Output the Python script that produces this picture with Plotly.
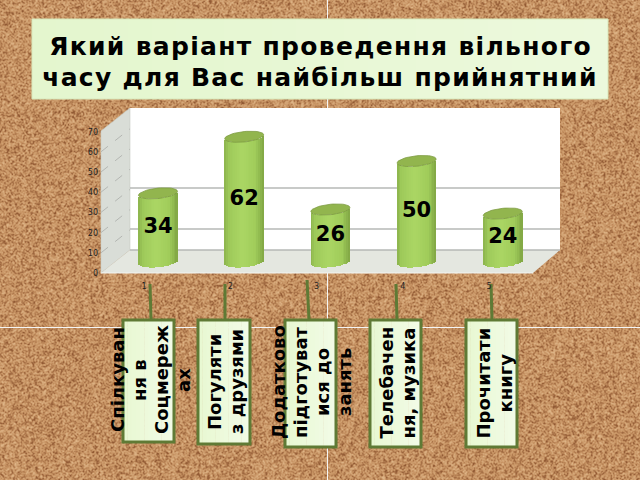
import base64, struct, zlib
import numpy as np
import plotly.graph_objects as go

# ---- chart values ----
categories = [1, 2, 3, 4, 5]
values = [34, 62, 26, 50, 24]
y_ticks = [0, 10, 20, 30, 40, 50, 60, 70]
title_lines = ["Який варіант проведення вільного", "часу для Вас найбільш прийнятний"]
category_names = [
    ["Спілкуван", "ня в", "Соцмереж", "ах"],
    ["Погуляти", "з друзями"],
    ["Додатково", "підготуват", "ися до", "занять"],
    ["Телебачен", "ня, музика"],
    ["Прочитати", "книгу"],
]

W, H = 640, 480
FONT = "DejaVu Sans"
PX_X = 86.2      # px per category
PX_Y = 2.02      # px per value unit
BAR_W = 39.0     # px
A, B, TILT = BAR_W / 2, 5.2, 0.1


def px(x):
    return x / W


def py(y):
    return 1 - y / H


# ---- decorative cork background (not chart data) ----
yy, xx = np.mgrid[0:H + 1, 0:W + 1]
hash_ = np.sin(xx * 12.9898 + yy * 78.233) * 43758.5453
hash_ = hash_ - np.floor(hash_)
soft = (hash_[:-1, :-1] + hash_[1:, :-1] + hash_[:-1, 1:] + hash_[1:, 1:]) / 4
t = np.clip((soft - 0.5) * 2.6, -1, 1)[..., None]
base_c = np.array([198, 146, 98], float)
dark_c = np.array([146, 90, 52], float)
light_c = np.array([222, 180, 134], float)
rgb = np.where(t < 0, base_c + (dark_c - base_c) * -t, base_c + (light_c - base_c) * t).astype(np.uint8)
# faint white cross seams of the backdrop
rgb[:, 327] = 245
rgb[327, :] = 245


def png_uri(a):
    h, w, _ = a.shape
    raw = b"".join(b"\x00" + a[i].tobytes() for i in range(h))

    def chunk(tag, d):
        return struct.pack(">I", len(d)) + tag + d + struct.pack(">I", zlib.crc32(tag + d) & 0xffffffff)

    png = b"\x89PNG\r\n\x1a\n" + chunk(b"IHDR", struct.pack(">IIBBBBB", w, h, 8, 2, 0, 0, 0)) \
        + chunk(b"IDAT", zlib.compress(raw, 9)) + chunk(b"IEND", b"")
    return "data:image/png;base64," + base64.b64encode(png).decode()


shapes = []


def poly(pts, fill, line="rgba(0,0,0,0)", width=0):
    path = "M " + " L ".join(f"{px(x):.5f},{py(y):.5f}" for x, y in pts) + " Z"
    shapes.append(dict(type="path", xref="paper", yref="paper", path=path, fillcolor=fill,
                       line=dict(color=line, width=width), layer="below"))


def seg(x0, y0, x1, y1, color, width, dash="solid"):
    shapes.append(dict(type="line", xref="paper", yref="paper", x0=px(x0), y0=py(y0), x1=px(x1), y1=py(y1),
                       line=dict(color=color, width=width, dash=dash), layer="below"))


def mix(c0, c1, f):
    return "rgb(%d,%d,%d)" % tuple(round(a + (b - a) * f) for a, b in zip(c0, c1))


def gradient_box(x0, y0, x1, y1, c0, c1, border=None, bw=0, n=14):
    for i in range(n):
        xa = x0 + (x1 - x0) * i / n
        xb = x0 + (x1 - x0) * (i + 1) / n + 0.5 * (i < n - 1)
        poly([(xa, y0), (xb, y0), (xb, y1), (xa, y1)], mix(c0, c1, i / (n - 1)))
    if border:
        poly([(x0, y0), (x1, y0), (x1, y1), (x0, y1)], "rgba(0,0,0,0)", border, bw)


# 3-D chart room
poly([(130, 108), (560, 108), (560, 250), (130, 250)], "white")
poly([(101, 131), (130, 108), (130, 250), (101, 273)], "#d9ddd7", "#c8ccc6", 0.6)
poly([(101, 273), (130, 250), (560, 250), (533, 273)], "#e4e7e0")
for gy in (188, 229, 250):
    seg(130, gy, 560, gy, "#b6b8b6", 1.4)
for k in range(1, 7):
    seg(101, 273 - 20.2 * k, 130, 250 - 20.2 * k, "#a9aca8", 0.8, "dash")
seg(101, 273, 533, 273, "#f4f5f2", 1.2)

# title panel
gradient_box(32, 19, 608, 99, (228, 246, 206), (236, 249, 220), "#d8e8bc", 1, n=24)

# category label panels with their connector lines
boxes = [(123, 320, 174, 442), (198, 320, 250, 444), (285, 320, 336, 447), (370, 320, 421, 447), (466, 320, 517, 447)]
links = [(150, 284, 151, 320), (225, 284, 225, 320), (307, 280, 309, 320), (396, 284, 397, 320), (491, 284, 492, 320)]
for lk in links:
    seg(*lk, "#5f7a35", 3)
for b in boxes:
    gradient_box(*b, (232, 248, 210), (242, 251, 230), "#5f7a35", 3, n=12)

# ---- traces ----
fig = go.Figure()

# cylinder bodies: vertical strips sharing each value, with a curved lower edge
N = 22
stops = [(0, (140, 178, 76)), (0.12, (158, 202, 90)), (0.45, (171, 214, 100)), (0.8, (160, 204, 90)), (1, (128, 166, 68))]


def shade(f):
    for (a, ca), (b, cb) in zip(stops, stops[1:]):
        if f <= b:
            return mix(ca, cb, (f - a) / (b - a))
    return mix(stops[-1][1], stops[-1][1], 0)


for i in range(N):
    f = (i + 0.5) / N
    dx = (f - 0.5) * BAR_W
    lower = (-B * np.sqrt(max(1 - (dx / A) ** 2, 0)) + TILT * dx) / PX_Y
    fig.add_trace(go.Bar(
        x=categories, y=values, base=[lower] * len(values),
        offset=(dx - BAR_W / N / 2 - 0.25) / PX_X, width=(BAR_W / N + 0.5) / PX_X,
        marker=dict(color=shade(f), line=dict(width=0)), hoverinfo="skip", showlegend=False))

# cylinder tops
theta = np.linspace(0, 2 * np.pi, 49)
cap_x, cap_y = [], []
for c, v in zip(categories, values):
    cap_x += list(c + A * np.cos(theta) / PX_X) + [None]
    cap_y += list(v + (B * np.sin(theta) + TILT * A * np.cos(theta)) / PX_Y) + [None]
fig.add_trace(go.Scatter(x=cap_x, y=cap_y, mode="lines", fill="toself", fillcolor="#92b54e",
                         line=dict(color="#7d9c42", width=0.8), hoverinfo="skip", showlegend=False))

# value labels
fig.add_trace(go.Scatter(x=categories, y=[v / 2 for v in values], mode="text", text=[str(v) for v in values],
                         textposition="middle center",
                         textfont=dict(family=FONT, size=21, color="black", weight="bold"),
                         hoverinfo="skip", showlegend=False))

# carrier for the front-plane tick axes
fig.add_trace(go.Scatter(x=categories, y=[0] * len(categories), xaxis="x2", yaxis="y2", mode="markers",
                         marker=dict(opacity=0), hoverinfo="skip", showlegend=False))

# ---- annotations ----
ann = []
for line, ly in zip(title_lines, (47, 77)):
    ann.append(dict(text=line, x=px(320), y=py(ly), xref="paper", yref="paper", xanchor="center", yanchor="middle",
                    showarrow=False, name="title", font=dict(family=FONT, size=25, color="black", weight="bold")))
label_centres = [(150, 380), (225, 382), (311.5, 382.5), (396.5, 383), (493.5, 383)]
for name, (cx, cy) in zip(category_names, label_centres):
    for k, line in enumerate(name):
        lx = cx + (k - (len(name) - 1) / 2) * 22
        ann.append(dict(text=line, x=px(lx), y=py(cy), xref="paper", yref="paper", xanchor="center", yanchor="middle",
                        showarrow=False, textangle=-90,
                        font=dict(family=FONT, size=18, color="black", weight="bold")))

tick_font = dict(family=FONT, size=8, color="#222222")
fig.update_layout(
    width=W, height=H, margin=dict(l=0, r=0, t=0, b=0), barmode="overlay", bargap=0,
    paper_bgcolor="#c89462", plot_bgcolor="rgba(0,0,0,0)", showlegend=False,
    shapes=shapes, annotations=ann,
    images=[dict(source=png_uri(rgb), xref="paper", yref="paper", x=0, y=1, sizex=1, sizey=1,
                 sizing="stretch", xanchor="left", yanchor="top", layer="below")],
    xaxis=dict(range=[1 - 158 / PX_X, 1 + (W - 158) / PX_X], visible=False, fixedrange=True),
    yaxis=dict(range=[-(H - 262) / PX_Y, 262 / PX_Y], visible=False, fixedrange=True),
    xaxis2=dict(range=[1 - 144 / 86.25, 1 + (W - 144) / 86.25], overlaying="x", anchor="free", position=py(280),
                tickvals=categories, showgrid=False, zeroline=False, showline=False, ticks="",
                tickfont=tick_font, fixedrange=True),
    yaxis2=dict(range=[-(H - 273) / 2.014, 273 / 2.014], overlaying="y", anchor="free", position=px(98),
                tickvals=y_ticks, showgrid=False, zeroline=False, showline=False, ticks="",
                tickfont=tick_font, fixedrange=True),
)

# reference title has widened letter spacing, which Plotly's font options do not expose
post = """
document.body.style.margin='0';
document.querySelectorAll('.annotation-text').forEach(function(t){
  if (t.textContent.indexOf('варіант')>=0 || t.textContent.indexOf('часу')>=0) t.style.letterSpacing='1.3px';
});
"""
fig.write_html("out.html", config=dict(displayModeBar=False), post_script=post)
